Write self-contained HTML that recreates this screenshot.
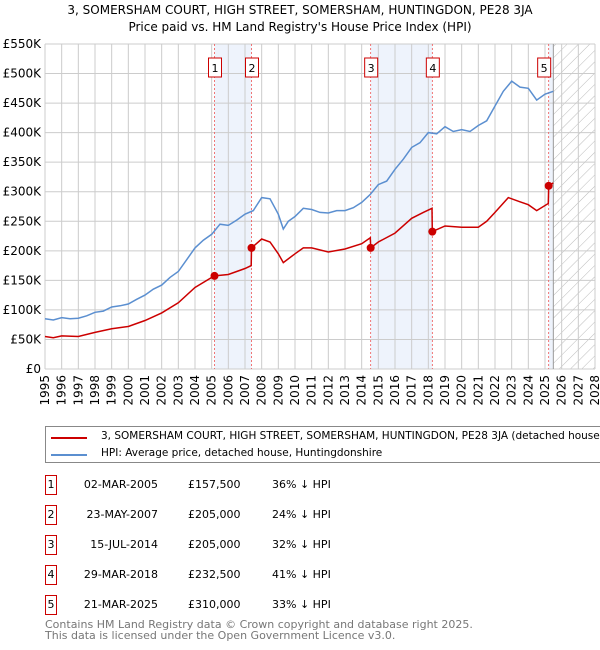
<!DOCTYPE html>
<html><head><meta charset="utf-8"><style>
body{margin:0;background:#fff;font-family:"DejaVu Sans","Liberation Sans",sans-serif;}
#wrap{position:relative;width:600px;height:650px;overflow:hidden;}
.t{position:absolute;font-size:11px;color:#000;white-space:nowrap;}
.box{position:absolute;width:10px;height:18px;border:1px solid #c00;font-size:11px;text-align:center;line-height:18px;}
svg text{font-family:"DejaVu Sans","Liberation Sans",sans-serif;}
</style></head><body><div id="wrap">
<div class="t" style="left:0;width:600px;text-align:center;top:2px;font-size:12px;line-height:17px">3, SOMERSHAM COURT, HIGH STREET, SOMERSHAM, HUNTINGDON, PE28 3JA<br>Price paid vs. HM Land Registry's House Price Index (HPI)</div>
<svg id="chart" width="600" height="420" style="position:absolute;left:0;top:0"></svg>
<div style="position:absolute;left:45px;top:426px;width:560px;height:37px;border:1px solid #888;box-sizing:border-box">
<div style="position:absolute;left:5px;top:10px;width:36px;height:2px;background:#c00"></div>
<div class="t" style="left:55px;top:3px;font-size:10.5px">3, SOMERSHAM COURT, HIGH STREET, SOMERSHAM, HUNTINGDON, PE28 3JA (detached house)</div>
<div style="position:absolute;left:5px;top:27px;width:36px;height:2px;background:#5b8fd0"></div>
<div class="t" style="left:55px;top:20px;font-size:10.5px">HPI: Average price, detached house, Huntingdonshire</div>
</div>
<div id="table"></div>
<div class="t" style="left:45px;top:620px;color:#777;font-size:11px;line-height:10.5px">Contains HM Land Registry data © Crown copyright and database right 2025.<br>This data is licensed under the Open Government Licence v3.0.</div>
</div>
<script>
const hpiYears=[1995,1995.5,1996,1996.5,1997,1997.5,1998,1998.5,1999,1999.5,2000,2000.5,2001,2001.5,2002,2002.5,2003,2003.5,2004,2004.5,2005,2005.5,2006,2006.5,2007,2007.5,2008,2008.5,2009,2009.3,2009.6,2010,2010.5,2011,2011.5,2012,2012.5,2013,2013.5,2014,2014.5,2015,2015.5,2016,2016.5,2017,2017.5,2018,2018.5,2019,2019.5,2020,2020.5,2021,2021.5,2022,2022.5,2023,2023.5,2024,2024.5,2025,2025.5];
const hpiValues=[85,83,87,85,86,90,96,98,105,107,110,118,125,135,142,155,165,185,205,218,228,245,243,252,262,268,290,288,262,237,250,258,272,270,265,264,268,268,273,282,295,312,318,338,355,375,383,400,398,410,402,405,402,412,420,445,470,487,477,475,455,465,470];
const propYears=[1995,1995.5,1996,1997,1998,1999,2000,2001,2002,2003,2004,2005.16,2005.17,2006,2006.5,2007,2007.37,2007.39,2008,2008.5,2009,2009.3,2010,2010.5,2011,2012,2013,2014,2014.52,2014.54,2015,2016,2017,2017.7,2018.22,2018.24,2019,2020,2021,2021.5,2022,2022.8,2023.5,2024,2024.5,2025.2,2025.22,2025.5];
const propValues=[55,53,56,55,62,68,72,82,95,112,138,157.5,157.5,160,165,170,175,205,220,215,195,180,195,205,205,198,203,212,222,205,215,230,255,265,272,232.5,242,240,240,250,265,290,283,278,268,280,310,315];
const saleYears=[2005.17,2007.39,2014.54,2018.24,2025.22];
const saleValues=[157.5,205,205,232.5,310];
const saleDates=["02-MAR-2005","23-MAY-2007","15-JUL-2014","29-MAR-2018","21-MAR-2025"];
const salePrices=["£157,500","£205,000","£205,000","£232,500","£310,000"];
const saleDiffs=["36% ↓ HPI","24% ↓ HPI","32% ↓ HPI","41% ↓ HPI","33% ↓ HPI"];
const yTicks=[0,50,100,150,200,250,300,350,400,450,500,550];
const xTicks=[];for(let y=1995;y<=2028;y++)xTicks.push(y);

const L=45,R=595,T=44,B=369,X0=1995,X1=2028,YMAX=550;
const xs=v=>L+(v-X0)/(X1-X0)*(R-L);
const ys=v=>B-v/YMAX*(B-T);
const NS="http://www.w3.org/2000/svg";
const svg=document.getElementById('chart');
function mk(tag,a,parent){const e=document.createElementNS(NS,tag);for(const k in a)e.setAttribute(k,a[k]);(parent||svg).appendChild(e);return e;}
const defs=mk('defs',{});
const pat=mk('pattern',{id:'hatch',width:8,height:8,patternUnits:'userSpaceOnUse',patternTransform:'rotate(45)'},defs);
mk('line',{x1:0,y1:0,x2:0,y2:8,stroke:'#bbb','stroke-width':1},pat);
[[0,1],[2,3]].forEach(p=>{const r=mk('rect',{x:xs(saleYears[p[0]]),y:T,width:xs(saleYears[p[1]])-xs(saleYears[p[0]]),height:B-T,fill:'#eef3fc'});

});
const r5=mk('rect',{x:xs(saleYears[4]),y:T,width:xs(2025.5)-xs(saleYears[4]),height:B-T,fill:'#eef3fc'});


const hr=mk('rect',{x:xs(2025.5),y:T,width:R-xs(2025.5),height:B-T,fill:'url(#hatch)'});


yTicks.forEach(v=>{const g=mk('line',{x1:L,x2:R,y1:ys(v),y2:ys(v),stroke:'#ccc'});


const t=mk('text',{x:L-4,y:ys(v)+4,'text-anchor':'end','font-size':12,fill:'#000'});t.textContent=v==0?'£0':'£'+v+'K';

});
xTicks.forEach(v=>{const g=mk('line',{x1:xs(v),x2:xs(v),y1:T,y2:B,stroke:'#ccc'});


const t=mk('text',{x:0,y:0,'text-anchor':'end','font-size':12,fill:'#000',transform:`translate(${xs(v)+4},${B+6}) rotate(-90)`});t.textContent=v;

});
mk('line',{x1:xs(2025.5),x2:xs(2025.5),y1:T,y2:B,stroke:'#999'});
saleYears.forEach((v,i)=>{const l=mk('line',{x1:xs(v),x2:xs(v),y1:T,y2:B,stroke:'#e55','stroke-dasharray':'2,2','stroke-width':0.8});


const bx=xs(v)-(i==4?11:6);
const b=mk('rect',{x:bx,y:T+14,width:13,height:19,fill:'#fff',stroke:'#c00'});


const t=mk('text',{x:bx+6.5,y:T+28,'text-anchor':'middle','font-size':11});t.textContent=i+1;

});
function line(xa,va,col,name){const d=xa.map((x,i)=>(i?'L':'M')+xs(x).toFixed(1)+','+ys(va[i]).toFixed(1)).join('');
const p=mk('path',{d:d,fill:'none',stroke:col,'stroke-width':1.5});

}
line(hpiYears,hpiValues,'#5b8fd0','hpi-line');
line(propYears,propValues,'#c00','property-price-line');
saleYears.forEach((v,i)=>{const c=mk('circle',{cx:xs(v),cy:ys(saleValues[i]),r:4,fill:'#c00'});

});
const tb=document.getElementById('table');
saleDates.forEach((d,i)=>{const y=475+i*30;
const row=document.createElement('div');


row.innerHTML=`<div class="box" style="left:45px;top:${y}px">${i+1}</div><div class="t" style="left:60px;width:98px;text-align:right;top:${y+3}px">${d}</div><div class="t" style="left:188px;top:${y+3}px">${salePrices[i]}</div><div class="t" style="left:272px;top:${y+3}px">${saleDiffs[i]}</div>`;
tb.appendChild(row);});
</script></body></html>
